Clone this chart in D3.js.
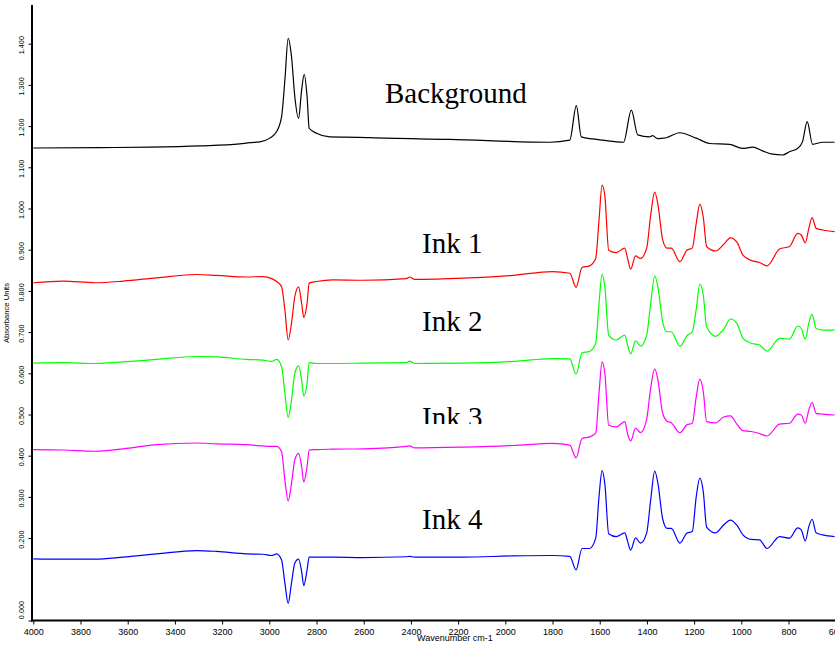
<!DOCTYPE html>
<html><head><meta charset="utf-8">
<script src="https://cdn.jsdelivr.net/npm/d3@7"></script>
<style>body{margin:0;background:#fff} svg{display:block}</style></head>
<body>
<svg id="c" width="835" height="646"></svg>
<script>
// ---------- data ----------
const bgWavenumbers = [4000,3718,3506,3294,3125,3082,3040,2998,2969,2948,2934,2920,2906,2892,2876,2863,2852,2840,2831,2800,2744,2617,2574,2236,1812,1727,1699,1678,1629,1588,1499,1466,1439,1389,1376,1355,1318,1262,1191,1134,1050,995,952,910,868,825,796,762,741,721,698,656,605];
const background = [1.148,1.149,1.150,1.153,1.158,1.161,1.163,1.172,1.188,1.224,1.313,1.414,1.370,1.273,1.220,1.289,1.327,1.273,1.196,1.184,1.175,1.174,1.173,1.169,1.162,1.167,1.251,1.175,1.170,1.167,1.162,1.240,1.180,1.175,1.178,1.171,1.173,1.185,1.172,1.159,1.157,1.147,1.150,1.141,1.133,1.131,1.139,1.147,1.163,1.212,1.157,1.162,1.162];

const inkWavenumbers = [4000,3873,3739,3619,3477,3308,3223,3096,3027,2990,2969,2948,2934,2920,2906,2892,2876,2863,2854,2840,2831,2800,2731,2603,2419,2405,2384,2179,1967,1801,1727,1700,1675,1643,1617,1603,1590,1578,1562,1530,1494,1482,1469,1448,1427,1401,1384,1367,1353,1334,1315,1297,1260,1231,1208,1191,1176,1161,1147,1109,1075,1046,1018,993,958,923,891,838,796,761,746,729,714,700,683,655,605];
const ink1 = [0.821,0.825,0.821,0.825,0.833,0.841,0.839,0.835,0.836,0.831,0.824,0.811,0.755,0.682,0.723,0.787,0.811,0.771,0.737,0.771,0.820,0.824,0.828,0.827,0.831,0.835,0.829,0.832,0.839,0.848,0.844,0.810,0.858,0.862,0.880,0.973,1.058,1.030,0.900,0.894,0.905,0.880,0.854,0.886,0.880,0.905,0.985,1.041,1.010,0.927,0.905,0.905,0.872,0.900,0.905,0.965,1.011,0.979,0.909,0.898,0.914,0.930,0.919,0.888,0.875,0.870,0.862,0.903,0.909,0.941,0.937,0.918,0.953,0.979,0.953,0.949,0.945];
const ink2 = [0.626,0.627,0.625,0.629,0.635,0.642,0.641,0.635,0.633,0.630,0.635,0.617,0.553,0.494,0.536,0.601,0.619,0.585,0.546,0.577,0.627,0.625,0.625,0.626,0.627,0.631,0.625,0.626,0.630,0.637,0.636,0.599,0.651,0.654,0.674,0.771,0.842,0.809,0.694,0.682,0.694,0.670,0.648,0.680,0.667,0.694,0.771,0.838,0.809,0.728,0.702,0.702,0.667,0.692,0.702,0.757,0.818,0.790,0.714,0.691,0.708,0.733,0.722,0.686,0.674,0.670,0.655,0.686,0.684,0.716,0.710,0.684,0.723,0.744,0.710,0.706,0.706];
const ink3 = [0.416,0.415,0.412,0.418,0.428,0.432,0.430,0.428,0.425,0.424,0.424,0.411,0.342,0.291,0.334,0.391,0.407,0.375,0.337,0.375,0.415,0.416,0.417,0.418,0.424,0.425,0.420,0.422,0.426,0.431,0.427,0.396,0.443,0.447,0.456,0.553,0.629,0.600,0.475,0.471,0.484,0.454,0.437,0.468,0.457,0.490,0.566,0.612,0.584,0.506,0.485,0.481,0.457,0.476,0.480,0.544,0.587,0.556,0.484,0.481,0.495,0.498,0.477,0.462,0.460,0.455,0.449,0.478,0.480,0.502,0.500,0.480,0.512,0.531,0.504,0.502,0.500];
const ink4 = [0.151,0.150,0.150,0.155,0.163,0.171,0.169,0.163,0.162,0.159,0.163,0.148,0.092,0.043,0.092,0.140,0.150,0.120,0.086,0.124,0.155,0.155,0.155,0.154,0.156,0.157,0.155,0.155,0.158,0.159,0.157,0.124,0.176,0.176,0.201,0.302,0.365,0.331,0.212,0.205,0.214,0.194,0.172,0.202,0.189,0.214,0.294,0.364,0.333,0.250,0.225,0.225,0.189,0.213,0.217,0.302,0.347,0.313,0.228,0.214,0.233,0.245,0.232,0.209,0.198,0.197,0.176,0.205,0.201,0.226,0.221,0.194,0.229,0.247,0.214,0.209,0.205];

const seriesNames = ["Background","Ink 1","Ink 2","Ink 3","Ink 4"];
const seriesColors = ["#000000","#ff0000","#00ff00","#ff00ff","#0000ff"];
const xTicks = [4000,3800,3600,3400,3200,3000,2800,2600,2400,2200,2000,1800,1600,1400,1200,1000,800,600];
const yTicks = [0,0.2,0.3,0.4,0.5,0.6,0.7,0.8,0.9,1.0,1.1,1.2,1.3,1.4];
const xTitle = "Wavenumber cm-1";
const yTitle = "Absorbance Units";

// ---------- chart ----------
const svg = d3.select("#c");
const x = d3.scaleLinear().domain([4000, 598]).range([33.3, 836.2]);
const y = d3.scaleLinear().domain([0, 1.4927]).range([621, 6]);

const series = [
  {name: seriesNames[0], color: seriesColors[0], w: bgWavenumbers, a: background},
  {name: seriesNames[1], color: seriesColors[1], w: inkWavenumbers, a: ink1},
  {name: seriesNames[2], color: seriesColors[2], w: inkWavenumbers, a: ink2},
  {name: seriesNames[3], color: seriesColors[3], w: inkWavenumbers, a: ink3},
  {name: seriesNames[4], color: seriesColors[4], w: inkWavenumbers, a: ink4}
];

const line = d3.line().x(d => x(d[0])).y(d => y(d[1])).curve(d3.curveMonotoneX);

svg.append("g").selectAll("path").data(series).join("path")
  .attr("d", s => line(s.w.map((w, i) => [w, s.a[i]])))
  .attr("fill", "none").attr("stroke", s => s.color).attr("stroke-width", 1.2)
  .attr("stroke-linejoin", "round");

// x axis
const xa = svg.append("g").attr("transform", "translate(0,620.5)")
  .call(d3.axisBottom(x).tickValues(xTicks).tickSize(4).tickSizeOuter(0).tickPadding(4).tickFormat(d3.format("d")));
xa.select(".domain").remove();
xa.selectAll(".tick line").attr("stroke", "#000");
xa.selectAll(".tick text").attr("font-family", "'Liberation Sans', Arial, sans-serif").attr("font-size", 9).attr("fill", "#000");
svg.append("line").attr("x1", 31).attr("x2", 835).attr("y1", 620.5).attr("y2", 620.5)
  .attr("stroke", "#000").attr("stroke-width", 2);

// y axis
svg.append("line").attr("x1", 32).attr("x2", 32).attr("y1", 5).attr("y2", 621.5)
  .attr("stroke", "#000").attr("stroke-width", 2);
const yt = svg.append("g").selectAll("g").data(yTicks).join("g");
yt.append("line").attr("x1", 28.5).attr("x2", 32).attr("y1", d => y(d)).attr("y2", d => y(d))
  .attr("stroke", "#000").attr("stroke-width", 1);
yt.append("text")
  .attr("transform", d => `translate(21.5,${d === 0 ? y(d) - 11 : y(d) + 1}) rotate(-90)`)
  .attr("text-anchor", "middle").attr("dominant-baseline", "central")
  .attr("font-family", "'Liberation Sans', Arial, sans-serif").attr("font-size", 7.3).attr("fill", "#000")
  .text(d => d3.format(".3f")(d));

svg.append("text").attr("transform", "translate(6,313) rotate(-90)")
  .attr("text-anchor", "middle").attr("dominant-baseline", "central")
  .attr("font-family", "'Liberation Sans', Arial, sans-serif").attr("font-size", 7.6).attr("fill", "#000")
  .text(yTitle);
svg.append("text").attr("x", 417).attr("y", 641)
  .attr("font-family", "'Liberation Sans', Arial, sans-serif").attr("font-size", 9).attr("fill", "#000")
  .text(xTitle);

// annotations
const defs = svg.append("defs");
defs.append("clipPath").attr("id", "clip3").append("rect").attr("x", 0).attr("y", 0).attr("width", 835).attr("height", 424);
const labelPos = [[385,103],[422,253],[422,330.5],[422,427],[422,529]];
svg.append("g").selectAll("text").data(series).join("text")
  .attr("x", (s, i) => labelPos[i][0]).attr("y", (s, i) => labelPos[i][1])
  .attr("clip-path", (s, i) => i === 3 ? "url(#clip3)" : null)
  .attr("font-family", "'Liberation Serif', 'Times New Roman', serif").attr("font-size", 29).attr("fill", "#000")
  .text(s => s.name);
</script>
</body></html>
